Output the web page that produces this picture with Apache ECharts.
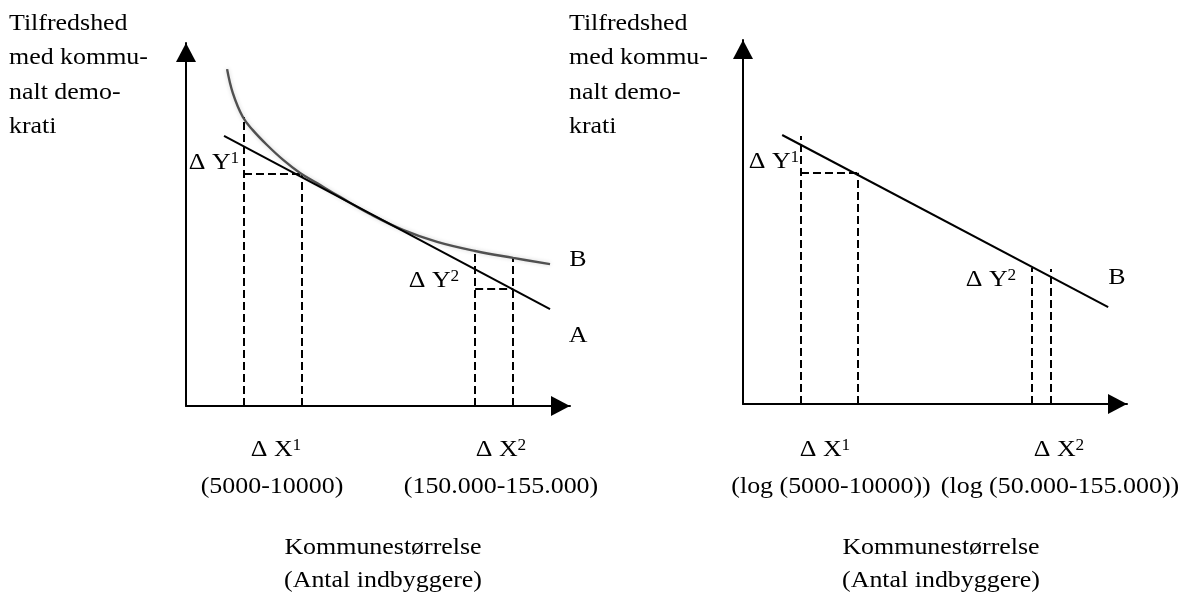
<!DOCTYPE html>
<html>
<head>
<meta charset="utf-8">
<script src="https://cdn.jsdelivr.net/npm/echarts@6/dist/echarts.min.js"></script>
<style>
html,body{margin:0;padding:0;background:#ffffff;}
#chart{width:1185px;height:592px;}
</style>
</head>
<body>
<div id="chart"></div>
<script>
// ---------- DATA (abstract units 0..100 on both axes) ----------
// Left panel: curve B (satisfaction vs. size, non-linear)
const leftCurveB = [
  [10.7, 92.8], [12.2, 86.2], [14.8, 79.6], [17.4, 76.0], [21.1, 71.9],
  [25.3, 67.8], [29.7, 64.2], [34.1, 61.4], [40.1, 57.6], [47.9, 52.9],
  [56.5, 48.5], [65.4, 45.2], [75.3, 42.7], [85.2, 40.8], [94.8, 39.1]
];
// Left panel: straight line A
const leftLineA = [[9.9, 74.4], [94.8, 26.7]];
// Left panel: dashed guide segments
const leftGuides = [
  [[15.1, 0], [15.1, 79.6]],
  [[15.1, 63.9], [30.2, 63.9]],
  [[30.2, 0], [30.2, 63.9]],
  [[75.3, 0], [75.3, 42.7]],
  [[85.2, 0], [85.2, 40.8]],
  [[75.3, 32.2], [85.2, 32.2]]
];
// Right panel: straight line B (log scale)
const rightLineB = [[10.2, 73.9], [95.1, 26.6]];
// Right panel: dashed guide segments
const rightGuides = [
  [[15.1, 0], [15.1, 73.6]],
  [[15.1, 63.5], [29.9, 63.5]],
  [[29.9, 0], [29.9, 63.5]],
  [[75.3, 0], [75.3, 37.4]],
  [[80.2, 0], [80.2, 37.1]]
];
// Texts
const yTitle = ['Tilfredshed', 'med kommu-', 'nalt demo-', 'krati'];
const leftRanges = ['(5000-10000)', '(150.000-155.000)'];
const rightRanges = ['(log (5000-10000))', '(log (50.000-155.000))'];
const xTitle = ['Kommunestørrelse', '(Antal indbyggere)'];

// ---------- CHART ----------
const FONT = '"Liberation Serif", "Times New Roman", serif';
const FS = 24;
const SX = 1.08;
const MID = 7.3; // baseline offset from text middle

function axisPair(gridIndex) {
  const axisLine = {
    show: true,
    onZero: false,
    symbol: ['none', 'triangle'],
    symbolSize: [20, 19],
    symbolOffset: [0, -9.5],
    lineStyle: { color: '#000', width: 2 }
  };
  const common = {
    type: 'value', gridIndex: gridIndex, min: 0, max: 100,
    axisLine: axisLine, axisTick: { show: false }, axisLabel: { show: false },
    splitLine: { show: false }
  };
  return [Object.assign({ position: 'bottom' }, common), Object.assign({ position: 'left' }, common)];
}
const L = axisPair(0), R = axisPair(1);

function guideSeries(segs, idx) {
  return {
    type: 'lines', coordinateSystem: 'cartesian2d', xAxisIndex: idx, yAxisIndex: idx,
    silent: true, symbol: 'none',
    lineStyle: { color: '#000', width: 2, type: [8, 4], opacity: 1, curveness: 0 },
    data: segs.map(function (s) { return { coords: s }; })
  };
}

function txt(str, x, baseline, align) {
  return {
    type: 'text', x: x, y: baseline - MID, scaleX: SX, silent: true,
    style: {
      text: str, fill: '#000', fontSize: FS, fontFamily: FONT,
      align: align || 'center', verticalAlign: 'middle',
      rich: {
        s: { fontSize: 16, fontFamily: FONT, lineHeight: 16, verticalAlign: 'top', fill: '#000' }
      }
    }
  };
}
function block(lines, x, firstBaseline, lh) {
  return {
    type: 'text', x: x, y: firstBaseline - (lh / 2 + MID), scaleX: SX, silent: true,
    style: {
      text: lines.join('\n'), fill: '#000', fontSize: FS, fontFamily: FONT,
      lineHeight: lh, align: 'left', verticalAlign: 'top'
    }
  };
}

const graphics = [
  block(yTitle, 9, 31, 34.3),
  block(yTitle, 569, 31, 34.3),
  // left panel labels
  txt('\u0394 Y{s|1}', 214, 170),
  txt('\u0394 Y{s|2}', 434, 288),
  txt('B', 578, 267),
  txt('A', 578, 343),
  txt('\u0394 X{s|1}', 276, 457),
  txt(leftRanges[0], 272, 494),
  txt('\u0394 X{s|2}', 501, 457),
  txt(leftRanges[1], 501, 494),
  txt(xTitle[0], 383, 555),
  txt(xTitle[1], 383, 588),
  // right panel labels
  txt('\u0394 Y{s|1}', 774, 169),
  txt('\u0394 Y{s|2}', 991, 287),
  txt('B', 1117, 285),
  txt('\u0394 X{s|1}', 825, 457),
  txt(rightRanges[0], 831, 494),
  txt('\u0394 X{s|2}', 1059, 457),
  txt(rightRanges[1], 1060, 494),
  txt(xTitle[0], 941, 555),
  txt(xTitle[1], 941, 588)
];

const chart = echarts.init(document.getElementById('chart'), null, { renderer: 'canvas' });
chart.setOption({
  animation: false,
  backgroundColor: '#ffffff',
  grid: [
    { left: 186, top: 43, width: 384, height: 363 },
    { left: 743, top: 40, width: 384, height: 364 }
  ],
  xAxis: [L[0], R[0]],
  yAxis: [L[1], R[1]],
  series: [
    {
      type: 'line', xAxisIndex: 0, yAxisIndex: 0, data: leftCurveB, smooth: 0.4,
      showSymbol: false, symbol: 'none', silent: true, clip: false,
      lineStyle: { color: '#505050', width: 2.4, shadowColor: 'rgba(0,0,0,0.18)', shadowBlur: 4 }
    },
    {
      type: 'line', xAxisIndex: 0, yAxisIndex: 0, data: leftLineA,
      showSymbol: false, symbol: 'none', silent: true, clip: false,
      lineStyle: { color: '#000', width: 2 }
    },
    guideSeries(leftGuides, 0),
    {
      type: 'line', xAxisIndex: 1, yAxisIndex: 1, data: rightLineB,
      showSymbol: false, symbol: 'none', silent: true, clip: false,
      lineStyle: { color: '#000', width: 2 }
    },
    guideSeries(rightGuides, 1)
  ],
  graphic: graphics
});
</script>
</body>
</html>
